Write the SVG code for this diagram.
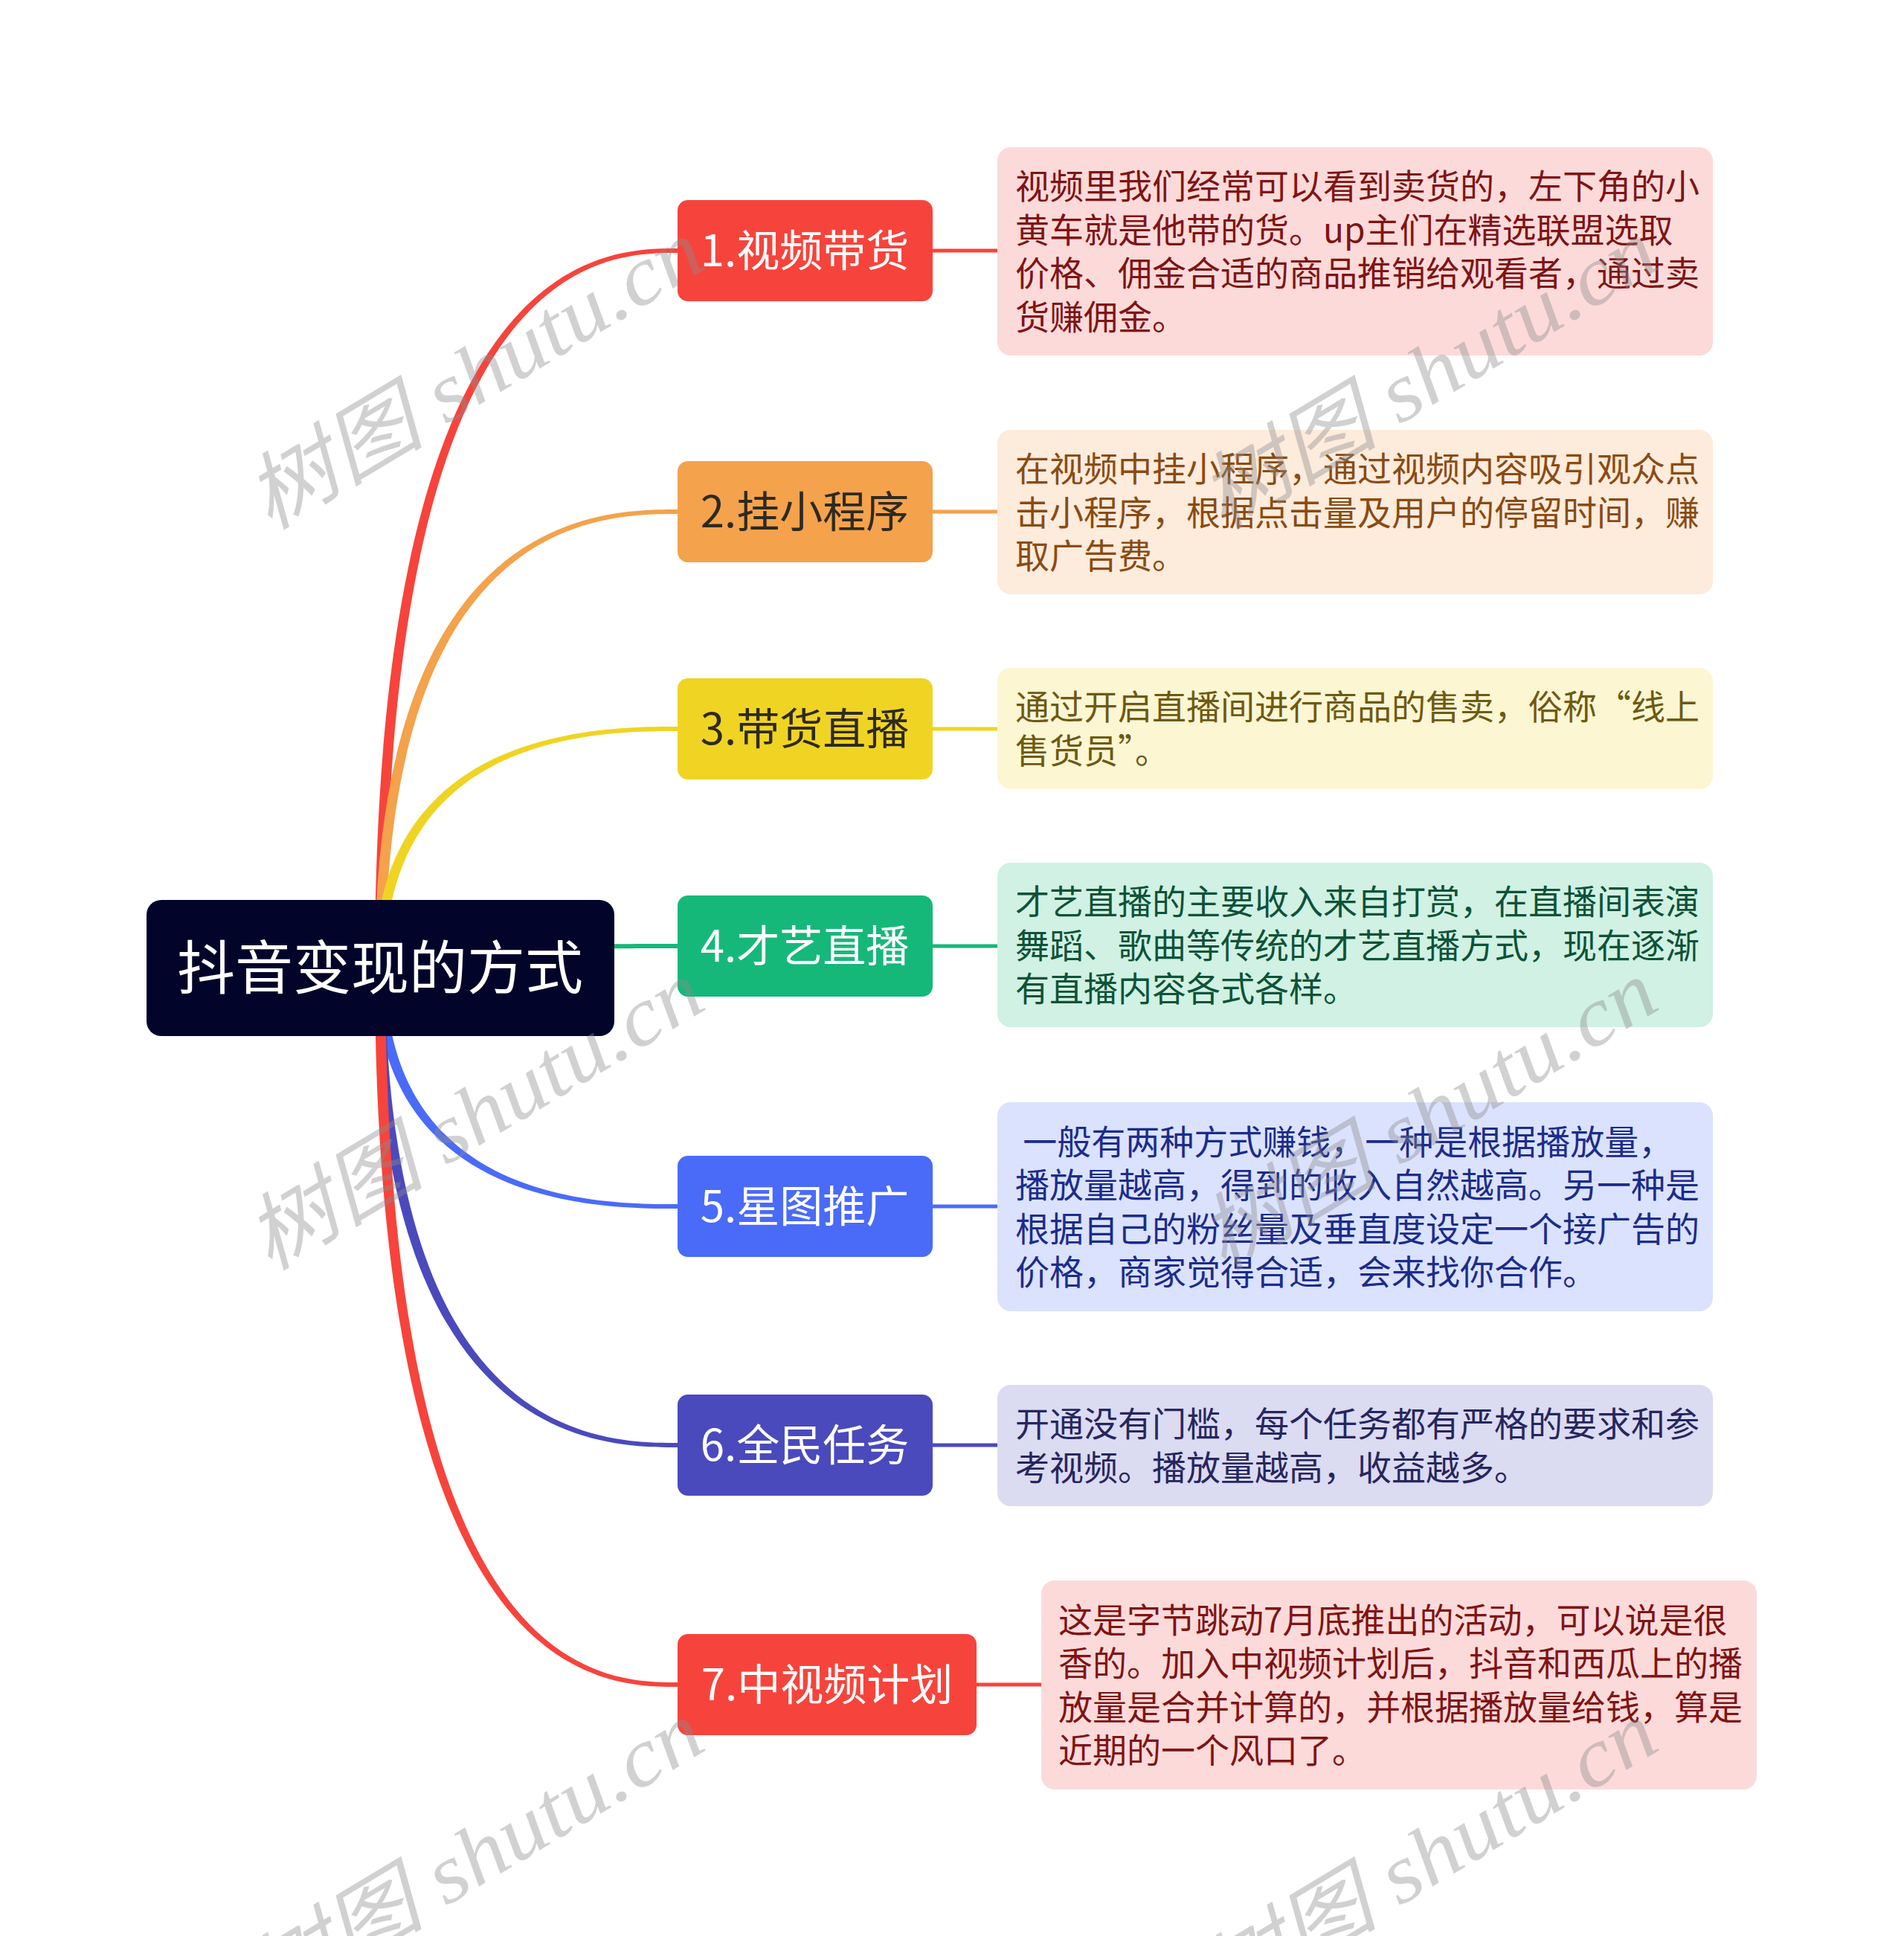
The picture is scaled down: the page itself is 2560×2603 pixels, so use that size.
<svg xmlns="http://www.w3.org/2000/svg" width="2560" height="2603" viewBox="0 0 2560 2603">
<style>
.cjk{font-family:"Noto Sans CJK SC","Noto Sans",sans-serif;}
.root-t{font-size:78px;fill:#ffffff;text-anchor:middle;}
.node-t{font-size:58px;text-anchor:middle;}
.det-t{font-size:46px;}
.wm{font-family:"Liberation Serif","Noto Sans CJK SC",serif;font-style:italic;font-size:112px;fill:#8c8c8c;fill-opacity:0.4;}
</style>
<rect x="0" y="0" width="2560" height="2603" fill="#ffffff"/>

<g id="connectors">
  <path fill="#F6443C" d="M504 1301 C504 334 811 334 911 334 L911 340 C811 340 518 340 518 1301 Z"/>
  <path fill="#F4A24C" d="M504 1301 C504 685 811 685 911 685 L911 691 C811 691 518 691 518 1301 Z"/>
  <path fill="#F0D423" d="M504 1301 C504 977 811 977 911 977 L911 983 C811 983 518 983 518 1301 Z"/>
  <path fill="#16B87A" d="M504 1301 C504 1269 811 1269 911 1269 L911 1275 C811 1275 518 1275 518 1301 Z"/>
  <path fill="#4A6BF8" d="M504 1301 C504 1625 811 1625 911 1625 L911 1619 C811 1619 518 1619 518 1301 Z"/>
  <path fill="#4A4ABD" d="M504 1301 C504 1946 811 1946 911 1946 L911 1940 C811 1940 518 1940 518 1301 Z"/>
  <path fill="#F6443C" d="M504 1301 C504 2268 811 2268 911 2268 L911 2262 C811 2262 518 2262 518 1301 Z"/>
  <g stroke-width="5" fill="none">
    <line x1="1254" y1="337" x2="1341" y2="337" stroke="#F6443C"/>
    <line x1="1254" y1="688" x2="1341" y2="688" stroke="#F4A24C"/>
    <line x1="1254" y1="980" x2="1341" y2="980" stroke="#F0D423"/>
    <line x1="1254" y1="1272" x2="1341" y2="1272" stroke="#16B87A"/>
    <line x1="1254" y1="1622" x2="1341" y2="1622" stroke="#4A6BF8"/>
    <line x1="1254" y1="1943" x2="1341" y2="1943" stroke="#4A4ABD"/>
    <line x1="1313" y1="2265" x2="1400" y2="2265" stroke="#F6443C"/>
  </g>
</g>

<g id="root">
  <rect x="197" y="1210" width="629" height="183" rx="20" fill="#02042A"/>
  <text class="cjk root-t" x="511" y="1330">抖音变现的方式</text>
</g>

<g id="n1">
  <rect x="911" y="269" width="343" height="136" rx="14" fill="#F6443C"/>
  <text class="cjk node-t" x="1082" y="358" fill="#ffffff">1.视频带货</text>
</g>
<g id="n2">
  <rect x="911" y="620" width="343" height="136" rx="14" fill="#F4A24C"/>
  <text class="cjk node-t" x="1082" y="709" fill="#2E2A22">2.挂小程序</text>
</g>
<g id="n3">
  <rect x="911" y="912" width="343" height="136" rx="14" fill="#F0D423"/>
  <text class="cjk node-t" x="1082" y="1001" fill="#2E2A22">3.带货直播</text>
</g>
<g id="n4">
  <rect x="911" y="1204" width="343" height="136" rx="14" fill="#16B87A"/>
  <text class="cjk node-t" x="1082" y="1293" fill="#ffffff">4.才艺直播</text>
</g>
<g id="n5">
  <rect x="911" y="1554" width="343" height="136" rx="14" fill="#4A6BF8"/>
  <text class="cjk node-t" x="1082" y="1643" fill="#ffffff">5.星图推广</text>
</g>
<g id="n6">
  <rect x="911" y="1875" width="343" height="136" rx="14" fill="#4A4ABD"/>
  <text class="cjk node-t" x="1082" y="1964" fill="#ffffff">6.全民任务</text>
</g>
<g id="n7">
  <rect x="911" y="2197" width="402" height="136" rx="14" fill="#F6443C"/>
  <text class="cjk node-t" x="1112" y="2286" fill="#ffffff">7.中视频计划</text>
</g>

<g id="d1">
  <rect x="1341" y="198" width="962" height="280" rx="18" fill="#FDDADA"/>
  <text class="cjk det-t" fill="#7F1414">
    <tspan x="1365" y="267">视频里我们经常可以看到卖货的，左下角的小</tspan>
    <tspan x="1365" y="326">黄车就是他带的货。up主们在精选联盟选取</tspan>
    <tspan x="1365" y="384">价格、佣金合适的商品推销给观看者，通过卖</tspan>
    <tspan x="1365" y="443">货赚佣金。</tspan>
  </text>
</g>
<g id="d2">
  <rect x="1341" y="578" width="962" height="221" rx="18" fill="#FDEBDC"/>
  <text class="cjk det-t" fill="#8A4B12">
    <tspan x="1365" y="647">在视频中挂小程序，通过视频内容吸引观众点</tspan>
    <tspan x="1365" y="706">击小程序，根据点击量及用户的停留时间，赚</tspan>
    <tspan x="1365" y="764">取广告费。</tspan>
  </text>
</g>
<g id="d3">
  <rect x="1341" y="898" width="962" height="163" rx="18" fill="#FCF6D3"/>
  <text class="cjk det-t" fill="#6E5A12">
    <tspan x="1365" y="967">通过开启直播间进行商品的售卖，俗称“线上</tspan>
    <tspan x="1365" y="1026">售货员”。</tspan>
  </text>
</g>
<g id="d4">
  <rect x="1341" y="1160" width="962" height="221" rx="18" fill="#D0F1E3"/>
  <text class="cjk det-t" fill="#0E5238">
    <tspan x="1365" y="1229">才艺直播的主要收入来自打赏，在直播间表演</tspan>
    <tspan x="1365" y="1288">舞蹈、歌曲等传统的才艺直播方式，现在逐渐</tspan>
    <tspan x="1365" y="1346">有直播内容各式各样。</tspan>
  </text>
</g>
<g id="d5">
  <rect x="1341" y="1482" width="962" height="281" rx="18" fill="#DBE2FE"/>
  <text class="cjk det-t" fill="#1B2C8C" xml:space="preserve"><tspan x="1365" y="1552"> 一般有两种方式赚钱，一种是根据播放量，</tspan><tspan x="1365" y="1610">播放量越高，得到的收入自然越高。另一种是</tspan><tspan x="1365" y="1669">根据自己的粉丝量及垂直度设定一个接广告的</tspan><tspan x="1365" y="1727">价格，商家觉得合适，会来找你合作。</tspan></text>
</g>
<g id="d6">
  <rect x="1341" y="1862" width="962" height="163" rx="18" fill="#DBDBF2"/>
  <text class="cjk det-t" fill="#26265E">
    <tspan x="1365" y="1931">开通没有门槛，每个任务都有严格的要求和参</tspan>
    <tspan x="1365" y="1990">考视频。播放量越高，收益越多。</tspan>
  </text>
</g>
<g id="d7">
  <rect x="1400" y="2125" width="962" height="281" rx="18" fill="#FDDADA"/>
  <text class="cjk det-t" fill="#7F1414">
    <tspan x="1423" y="2195">这是字节跳动7月底推出的活动，可以说是很</tspan>
    <tspan x="1423" y="2253">香的。加入中视频计划后，抖音和西瓜上的播</tspan>
    <tspan x="1423" y="2312">放量是合并计算的，并根据播放量给钱，算是</tspan>
    <tspan x="1423" y="2370">近期的一个风口了。</tspan>
  </text>
</g>

<g id="watermarks">
  <text class="wm" transform="translate(362 714) rotate(-31)" textLength="690" lengthAdjust="spacingAndGlyphs">树图 shutu.cn</text>
  <text class="wm" transform="translate(1644 714) rotate(-31)" textLength="690" lengthAdjust="spacingAndGlyphs">树图 shutu.cn</text>
  <text class="wm" transform="translate(362 1710) rotate(-31)" textLength="690" lengthAdjust="spacingAndGlyphs">树图 shutu.cn</text>
  <text class="wm" transform="translate(1644 1710) rotate(-31)" textLength="690" lengthAdjust="spacingAndGlyphs">树图 shutu.cn</text>
  <text class="wm" transform="translate(362 2706) rotate(-31)" textLength="690" lengthAdjust="spacingAndGlyphs">树图 shutu.cn</text>
  <text class="wm" transform="translate(1644 2706) rotate(-31)" textLength="690" lengthAdjust="spacingAndGlyphs">树图 shutu.cn</text>
</g>
</svg>
